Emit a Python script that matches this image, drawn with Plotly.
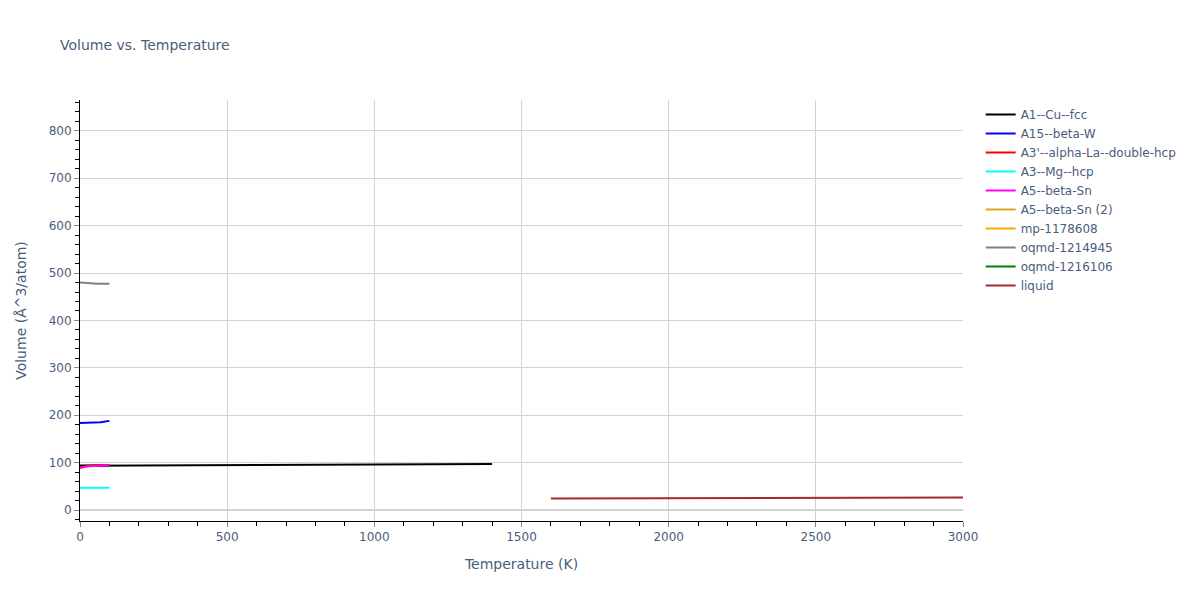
import plotly.graph_objects as go

# temperature grids (K)
t_low = [0, 10, 20, 30, 40, 50, 60, 70, 80, 90, 100]
t_cu = [0, 200, 400, 600, 800, 1000, 1200, 1400]
t_liquid = [1600, 1800, 2000, 2200, 2400, 2600, 2800, 3000]

# volumes (A^3/atom)
v_cu = [93.5, 94.0, 94.5, 95.0, 95.5, 96.0, 96.5, 97.0]
v_a15 = [183.5, 183.6, 183.7, 183.8, 184.0, 184.3, 184.8, 185.5, 186.3, 187.2, 188.2]
v_a3p = [90.0, 91.5, 92.5, 93.2, 93.7, 94.0, 94.3, 94.5, 94.7, 94.9, 95.0]
v_a3 = [47.0, 47.0, 47.0, 47.0, 47.0, 47.1, 47.1, 47.1, 47.2, 47.2, 47.3]
v_a5 = [88.5, 90.5, 91.8, 92.6, 93.2, 93.7, 94.0, 94.3, 94.5, 94.7, 94.9]
v_oq1 = [480.0, 479.3, 478.7, 478.2, 477.8, 477.5, 477.3, 477.3, 477.4, 477.5, 477.6]
v_liquid = [24.5, 24.8, 25.1, 25.4, 25.7, 26.0, 26.3, 26.6]
# these sit under the A5/A1 curves near 95 and are not visible
v_a5b = [94.0, 94.1, 94.2, 94.3, 94.4, 94.5, 94.6, 94.7, 94.8, 94.9, 95.0]
v_mp = [93.8, 93.9, 94.0, 94.1, 94.2, 94.3, 94.4, 94.5, 94.6, 94.7, 94.8]
v_oq2 = [93.6, 93.7, 93.8, 93.9, 94.0, 94.1, 94.2, 94.3, 94.4, 94.5, 94.6]

# (name, T, V, colour, legend position, drawing position)
series = [
    ("A1--Cu--fcc", t_cu, v_cu, "black", 1, 4),
    ("A15--beta-W", t_low, v_a15, "blue", 2, 5),
    ("A3'--alpha-La--double-hcp", t_low, v_a3p, "red", 3, 6),
    ("A3--Mg--hcp", t_low, v_a3, "cyan", 4, 7),
    ("A5--beta-Sn", t_low, v_a5, "magenta", 5, 8),
    ("A5--beta-Sn (2)", t_low, v_a5b, "goldenrod", 6, 1),
    ("mp-1178608", t_low, v_mp, "orange", 7, 2),
    ("oqmd-1214945", t_low, v_oq1, "gray", 8, 9),
    ("oqmd-1216106", t_low, v_oq2, "green", 9, 3),
    ("liquid", t_liquid, v_liquid, "brown", 10, 10),
]

fig = go.Figure()
for name, t, v, c, rank, _ in sorted(series, key=lambda s: s[5]):
    fig.add_trace(go.Scatter(x=t, y=v, mode="lines", name=name, legendrank=rank,
                             line=dict(color=c, width=2)))

axis_style = dict(
    showline=True, linecolor="black", linewidth=1,
    ticks="outside", tickcolor="#888", ticklen=5,
    showgrid=True, gridcolor="lightgray",
    zeroline=True, zerolinecolor="lightgray", zerolinewidth=2,
)

# the page puts the plot 8px in from the corner, margins make up for that
fig.update_layout(
    title=dict(text="Volume vs. Temperature", x=0.0433, y=0.938, yanchor="middle",
               font=dict(size=14)),
    width=1200, height=600,
    margin=dict(l=72, r=245, t=92, b=87, autoexpand=False),
    plot_bgcolor="white", paper_bgcolor="white",
    font=dict(family="Verdana, DejaVu Sans", color="#4b5c7c", size=12),
    legend=dict(x=1.02, y=1, font=dict(size=12)),
    xaxis=dict(title="Temperature (K)", range=[0, 3000], dtick=500,
               minor=dict(ticks="outside", dtick=100, tickcolor="black", ticklen=4),
               **axis_style),
    yaxis=dict(title=dict(text="Volume (Å^3/atom)", standoff=18), range=[-23, 865], dtick=100,
               minor=dict(ticks="outside", dtick=20, tickcolor="black", ticklen=4),
               **axis_style),
)

fig.write_html("out.html")
